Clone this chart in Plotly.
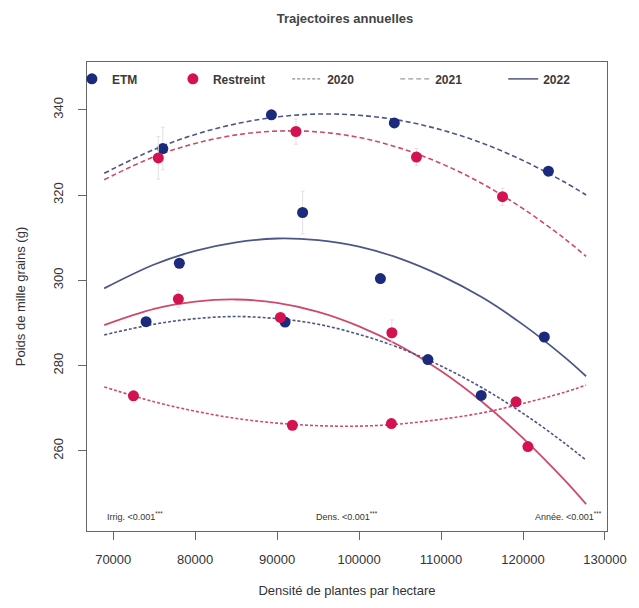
import plotly.graph_objects as go

# ---- data ----
etm_x = [76050, 89300, 104300, 123100, 78070, 93110, 102600, 122600, 74010, 90970, 108400, 114900]
etm_y = [330.9, 338.8, 336.9, 325.6, 304.0, 315.9, 300.4, 286.7, 290.3, 290.2, 281.4, 273.0]
etm_err = [5, 1, 1, 1, 1, 5, 1, 1, 1, 1, 1, 1]

res_x = [75500, 92300, 107000, 117500, 77950, 90400, 104000, 120600, 72470, 91860, 103940, 119150]
res_y = [328.7, 334.9, 328.9, 319.6, 295.6, 291.3, 287.7, 261.0, 272.9, 266.0, 266.4, 271.5]
res_err = [5, 3, 2, 2, 2, 1, 3, 1, 1, 1, 1, 1]

curve_x = [68900, 75000, 80000, 85000, 90000, 95000, 100000, 105000, 110000, 115000, 120000, 125000, 127700]
etm_2020 = [287.2, 289.7, 291.0, 291.5, 291.0, 289.7, 287.3, 284.1, 279.9, 274.8, 268.8, 261.9, 257.8]
etm_2021 = [325.1, 330.7, 334.2, 336.7, 338.3, 339.0, 338.7, 337.5, 335.3, 332.2, 328.1, 323.1, 320.0]
etm_2022 = [298.1, 303.7, 306.9, 308.9, 309.8, 309.4, 307.9, 305.1, 301.1, 296.0, 289.6, 282.1, 277.5]
res_2020 = [275.0, 271.5, 269.3, 267.6, 266.5, 265.9, 265.8, 266.3, 267.4, 268.9, 271.1, 273.7, 275.4]
res_2021 = [323.6, 329.0, 332.1, 334.1, 335.0, 334.8, 333.5, 331.0, 327.4, 322.7, 316.8, 309.9, 305.6]
res_2022 = [289.5, 293.3, 295.0, 295.5, 294.7, 292.6, 289.2, 284.6, 278.7, 271.5, 263.0, 253.3, 247.5]

x_ticks = [70000, 80000, 90000, 100000, 110000, 120000, 130000]
y_ticks = [260, 280, 300, 320, 340]

BLUE = "#1b2a7c"
RED = "#d3124f"
BLUE_L = "#4d5686"
RED_L = "#cf4a6a"
DASH20 = "3px,2px"
DASH21 = "5px,3px"

fig = go.Figure()

def curve(y, color, dash, width=1.6):
    fig.add_trace(go.Scatter(x=curve_x, y=y, mode="lines", line_shape="spline",
                             line=dict(color=color, dash=dash, width=width),
                             showlegend=False, hoverinfo="skip"))

curve(etm_2021, BLUE_L, DASH21)
curve(res_2021, RED_L, DASH21)
curve(etm_2022, BLUE_L, "solid", 1.8)
curve(res_2022, RED_L, "solid", 1.8)
curve(etm_2020, BLUE_L, DASH20)
curve(res_2020, RED_L, DASH20)

fig.add_trace(go.Scatter(x=etm_x, y=etm_y, mode="markers", name="ETM", legend="legend",
                         marker=dict(color=BLUE, size=11),
                         error_y=dict(type="data", array=etm_err, color="#e2e2e2", thickness=1, width=2)))
fig.add_trace(go.Scatter(x=res_x, y=res_y, mode="markers", name="Restreint", legend="legend",
                         marker=dict(color=RED, size=11),
                         error_y=dict(type="data", array=res_err, color="#e2e2e2", thickness=1, width=2)))

for name, dash, w, col in [("2020", DASH20, 1.3, "#8a8a9a"), ("2021", DASH21, 1.3, "#9a9aa6"),
                           ("2022", "solid", 1.6, "#6a6e8e")]:
    fig.add_trace(go.Scatter(x=[None], y=[None], mode="lines", name=name, legend="legend2",
                             line=dict(color=col, dash=dash, width=w)))

font_family = "Liberation Sans, Arial, sans-serif"
leg_font = dict(size=12, color="#3a3a3a", family=font_family, weight="bold")

fig.update_layout(
    width=631, height=600,
    margin=dict(l=78, r=32, t=54, b=75),
    paper_bgcolor="white", plot_bgcolor="white",
    font=dict(family=font_family, color="#333333", size=13),
    title=dict(text="<b>Trajectoires annuelles</b>", x=0.534, xanchor="center",
               y=0.983, yanchor="middle", font=dict(size=13, color="#444444")),
    legend=dict(orientation="h", x=-0.029, y=0.995, xanchor="left", yanchor="top",
                entrywidth=56, entrywidthmode="pixels", font=leg_font,
                bgcolor="rgba(0,0,0,0)", itemwidth=30),
    legend2=dict(orientation="h", x=0.385, y=0.995, xanchor="left", yanchor="top",
                 entrywidth=63, entrywidthmode="pixels", font=leg_font,
                 bgcolor="rgba(0,0,0,0)", itemwidth=30),
    showlegend=True,
)

fig.update_xaxes(range=[66800, 130250], tickvals=x_ticks, ticktext=[str(v) for v in x_ticks],
                 showgrid=False, zeroline=False, showline=True, mirror=True,
                 linecolor="#666666", linewidth=1.2, ticks="outside", ticklen=8,
                 tickcolor="#666666", tickfont=dict(size=13, color="#333333"),
                 ticklabelstandoff=8,
                 title=dict(text="Densité de plantes par hectare", standoff=20,
                            font=dict(size=13, color="#333333")))
fig.update_yaxes(range=[241.2, 351.2], tickvals=y_ticks, ticktext=[str(v) for v in y_ticks],
                 showgrid=False, zeroline=False, showline=True, mirror=True,
                 linecolor="#666666", linewidth=1.2, ticks="outside", ticklen=8,
                 tickcolor="#666666", tickangle=-90, tickfont=dict(size=13, color="#333333"),
                 ticklabelstandoff=10,
                 title=dict(text="Poids de mille grains (g)", standoff=22,
                            font=dict(size=13, color="#333333")))

ann_font = dict(size=9, color="#333333", family=font_family)
fig.add_annotation(xref="paper", yref="paper", x=0.035, y=0.015, xanchor="left", yanchor="bottom",
                   text="Irrig. <0.001<sup>***</sup>", showarrow=False, font=ann_font)
fig.add_annotation(xref="paper", yref="paper", x=0.5, y=0.015, xanchor="center", yanchor="bottom",
                   text="Dens. <0.001<sup>***</sup>", showarrow=False, font=ann_font)
fig.add_annotation(xref="paper", yref="paper", x=0.995, y=0.015, xanchor="right", yanchor="bottom",
                   text="Année. <0.001<sup>***</sup>", showarrow=False, font=ann_font)

fig.write_html("out.html")
